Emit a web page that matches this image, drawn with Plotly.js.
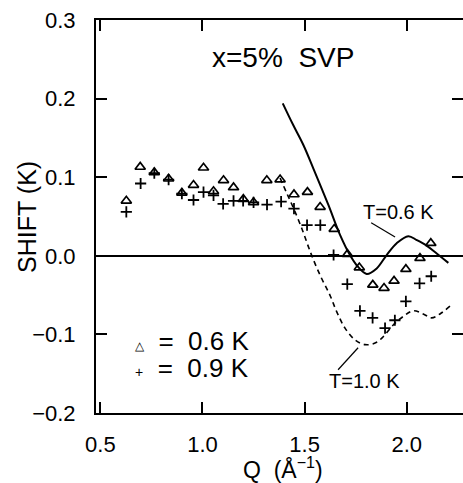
<!DOCTYPE html>
<html>
<head>
<meta charset="utf-8">
<script src="https://cdn.plot.ly/plotly-3.0.1.min.js"></script>
<style>html,body{margin:0;padding:0;background:#fff;}#chart{width:463px;height:483px;}</style>
</head>
<body>
<div id="chart"></div>
<script>
// Measured points, T = 0.6 K (triangles)
const triQ = [0.627, 0.695, 0.764, 0.834, 0.899, 0.956, 1.005, 1.054, 1.103, 1.152, 1.200, 1.250, 1.315, 1.380, 1.448, 1.514, 1.576, 1.645, 1.710, 1.768, 1.834, 1.889, 1.938, 1.996, 2.065, 2.118];
const triShift = [0.070, 0.113, 0.106, 0.098, 0.080, 0.090, 0.112, 0.082, 0.096, 0.087, 0.072, 0.068, 0.096, 0.097, 0.078, 0.081, 0.062, 0.034, 0.002, -0.015, -0.037, -0.041, -0.032, -0.017, -0.003, 0.016];
// Measured points, T = 0.9 K (plus)
const plusQ = [0.627, 0.697, 0.764, 0.834, 0.899, 0.956, 1.005, 1.054, 1.101, 1.152, 1.199, 1.250, 1.316, 1.385, 1.448, 1.512, 1.577, 1.642, 1.709, 1.771, 1.833, 1.894, 1.942, 1.996, 2.063, 2.120];
const plusShift = [0.056, 0.092, 0.105, 0.097, 0.079, 0.071, 0.081, 0.077, 0.066, 0.070, 0.070, 0.068, 0.065, 0.069, 0.060, 0.039, 0.039, 0.001, -0.036, -0.070, -0.079, -0.092, -0.082, -0.058, -0.035, -0.026];
// Theory curve T = 0.6 K (solid)
const solidQ = [1.393, 1.443, 1.494, 1.543, 1.616, 1.673, 1.722, 1.758, 1.804, 1.853, 1.902, 1.951, 2.008, 2.049, 2.097, 2.147, 2.204];
const solidShift = [0.194, 0.167, 0.141, 0.111, 0.065, 0.027, 0.001, -0.013, -0.023, -0.016, 0.001, 0.016, 0.025, 0.020, 0.013, 0.003, -0.009];
// Theory curve T = 1.0 K (dashed)
const dashQ = [1.380, 1.412, 1.445, 1.486, 1.518, 1.540, 1.580, 1.624, 1.657, 1.698, 1.747, 1.796, 1.845, 1.885, 1.934, 1.984, 2.032, 2.081, 2.122, 2.163, 2.212];
const dashShift = [0.099, 0.080, 0.061, 0.035, 0.012, -0.003, -0.027, -0.050, -0.071, -0.092, -0.107, -0.113, -0.111, -0.103, -0.088, -0.077, -0.070, -0.074, -0.079, -0.074, -0.064];
// Axis ticks
const xTicks = [0.5, 1.0, 1.5, 2.0];
const xTickText = ["0.5", "1.0", "1.5", "2.0"];
const yTicks = [-0.2, -0.1, 0.0, 0.1, 0.2, 0.3];
const yTickText = ["\u22120.2", "\u22120.1", "0.0", "0.1", "0.2", "0.3"];

const FONT = "Liberation Sans, Arial, sans-serif";

const traces = [
  {x: solidQ, y: solidShift, mode: "lines", name: "T=0.6 K", line: {color: "#000", width: 2, shape: "spline", smoothing: 1}},
  {x: dashQ, y: dashShift, mode: "lines", name: "T=1.0 K", line: {color: "#000", width: 1.6, dash: "5px,4px", shape: "spline", smoothing: 1}},
  {x: triQ, y: triShift, mode: "markers", name: "0.6 K", marker: {symbol: "triangle-up-open", size: 9, color: "#000", line: {width: 1.7, color: "#000"}}},
  {x: plusQ, y: plusShift, mode: "markers", name: "0.9 K", marker: {symbol: "cross-thin-open", size: 8, color: "#000", line: {width: 1.8, color: "#000"}}}
];

const layout = {
  width: 463, height: 483,
  margin: {l: 96, r: 0, t: 20, b: 70},
  paper_bgcolor: "#fff", plot_bgcolor: "#fff",
  showlegend: false,
  font: {family: FONT, color: "#000", size: 21},
  xaxis: {
    range: [0.4785, 2.2757], tickvals: xTicks, ticktext: xTickText,
    ticks: "inside", ticklen: 11, tickwidth: 2, tickcolor: "#000",
    showline: true, linewidth: 2, linecolor: "#000", mirror: "ticks",
    showgrid: false, zeroline: false,
    tickfont: {family: FONT, size: 22, color: "#000"},
    ticklabelstandoff: 11
  },
  yaxis: {
    range: [-0.2, 0.3], tickvals: yTicks, ticktext: yTickText,
    ticks: "inside", ticklen: 11, tickwidth: 2, tickcolor: "#000",
    showline: true, linewidth: 2, linecolor: "#000", mirror: "ticks",
    showgrid: false, zeroline: true, zerolinecolor: "#000", zerolinewidth: 2,
    tickfont: {family: FONT, size: 22, color: "#000"},
    ticklabelstandoff: 14
  },
  shapes: [
    {type: "line", xref: "x", yref: "y", x0: 1.826, y0: 0.042, x1: 1.943, y1: 0.024, line: {color: "#000", width: 1.2}},
    {type: "line", xref: "x", yref: "y", x0: 1.762, y0: -0.117, x1: 1.664, y1: -0.145, line: {color: "#000", width: 1.2}}
  ],
  annotations: [
    {x: -0.188, y: 0.499, xref: "paper", yref: "paper", xanchor: "center", yanchor: "middle", text: "SHIFT (K)", textangle: -90, showarrow: false, font: {family: FONT, size: 25, color: "#000"}},
    {x: 0.5095, y: -0.141, xref: "paper", yref: "paper", xanchor: "center", yanchor: "middle", text: "Q  (Å<sup>\u22121</sup>)", showarrow: false, font: {family: FONT, size: 23, color: "#000"}},
    {x: 1.395, y: 0.252, xref: "x", yref: "y", text: "x=5%  SVP", showarrow: false, font: {family: FONT, size: 28, color: "#000"}},
    {x: 1.958, y: 0.056, xref: "x", yref: "y", text: "T=0.6 K", showarrow: false, font: {family: FONT, size: 20, color: "#000"}},
    {x: 1.791, y: -0.159, xref: "x", yref: "y", text: "T=1.0 K", showarrow: false, font: {family: FONT, size: 20, color: "#000"}},
    {x: 0.66, y: -0.108, xref: "x", yref: "y", xanchor: "left", text: "<span style='font-size:12px'>\u25B3</span>  =  0.6 K", showarrow: false, font: {family: FONT, size: 26, color: "#000"}},
    {x: 0.66, y: -0.143, xref: "x", yref: "y", xanchor: "left", text: "<span style='font-size:14px'>+</span>  =  0.9 K", showarrow: false, font: {family: FONT, size: 26, color: "#000"}}
  ]
};

Plotly.newPlot("chart", traces, layout, {displayModeBar: false, staticPlot: true});
</script>
</body>
</html>
